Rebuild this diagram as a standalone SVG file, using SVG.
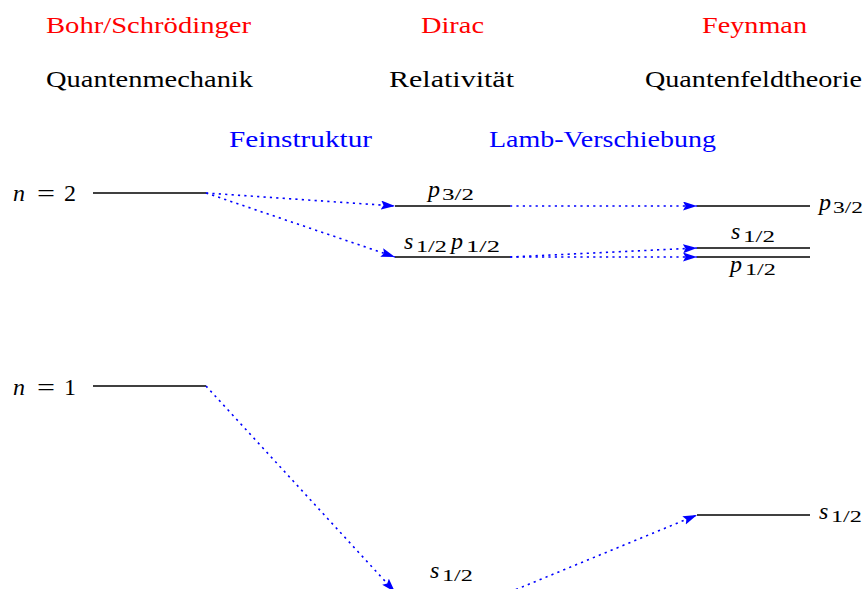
<svg xmlns="http://www.w3.org/2000/svg" width="866" height="589" viewBox="0 0 866 589">
<style>
.t{font-family:"Liberation Serif","Times New Roman",Tinos,"Noto Serif","DejaVu Serif",serif;font-size:24px;fill:#000}
.red{fill:#ff0000}
.blue{fill:#0000ff}
.mi{font-style:italic}
.sub{font-size:17px}
.lvl{stroke:#000;stroke-width:1.5;fill:none}
.conn{stroke:#0000ff;stroke-width:1.6;stroke-dasharray:2.2 4.2;fill:none;marker-end:url(#ah)}
</style>
<defs>
<marker id="ah" markerUnits="userSpaceOnUse" markerWidth="15" markerHeight="10" refX="14" refY="4.5" orient="auto">
<path d="M0,0 L14,4.5 L0,9 L2.5,4.5 z" fill="#0000ff"/>
</marker>
</defs>
<rect width="866" height="589" fill="#fff"/>

<g id="headers">
<text class="t red" x="46" y="33" textLength="205" lengthAdjust="spacingAndGlyphs">Bohr/Schrödinger</text>
<text class="t red" x="421" y="33" textLength="63" lengthAdjust="spacingAndGlyphs">Dirac</text>
<text class="t red" x="702" y="33" textLength="105" lengthAdjust="spacingAndGlyphs">Feynman</text>
<text class="t" x="46" y="87" textLength="207" lengthAdjust="spacingAndGlyphs">Quantenmechanik</text>
<text class="t" x="389" y="87" textLength="125" lengthAdjust="spacingAndGlyphs">Relativität</text>
<text class="t" x="645" y="87" textLength="217" lengthAdjust="spacingAndGlyphs">Quantenfeldtheorie</text>
<text class="t blue" x="229" y="147" textLength="143" lengthAdjust="spacingAndGlyphs">Feinstruktur</text>
<text class="t blue" x="489" y="147" textLength="227" lengthAdjust="spacingAndGlyphs">Lamb-Verschiebung</text>
</g>

<g id="bohr-n2">
<text class="t mi" x="13" y="201">n</text>
<text class="t" x="37" y="201" textLength="18" lengthAdjust="spacingAndGlyphs">=</text>
<text class="t" x="64" y="201">2</text>
<line class="lvl" x1="93" y1="193" x2="206" y2="193"/>
</g>

<g id="bohr-n1">
<text class="t mi" x="13" y="395">n</text>
<text class="t" x="37" y="395" textLength="18" lengthAdjust="spacingAndGlyphs">=</text>
<text class="t" x="64" y="395">1</text>
<line class="lvl" x1="93" y1="386" x2="206" y2="386"/>
</g>

<g id="dirac-p32">
<line class="lvl" x1="395" y1="206" x2="510" y2="206"/>
<text class="t mi" x="428" y="197">p</text>
<text class="t sub" x="442" y="200" textLength="32" lengthAdjust="spacingAndGlyphs">3/2</text>
</g>

<g id="dirac-s12p12">
<line class="lvl" x1="395" y1="257" x2="510" y2="257"/>
<text class="t mi" x="404" y="249">s</text>
<text class="t sub" x="416" y="252" textLength="31" lengthAdjust="spacingAndGlyphs">1/2</text>
<text class="t mi" x="451" y="249">p</text>
<text class="t sub" x="466" y="252" textLength="34" lengthAdjust="spacingAndGlyphs">1/2</text>
</g>

<g id="dirac-s12-ground">
<line class="lvl" x1="395" y1="592" x2="510" y2="592"/>
<text class="t mi" x="430" y="578">s</text>
<text class="t sub" x="442" y="581" textLength="31" lengthAdjust="spacingAndGlyphs">1/2</text>
</g>

<g id="feynman-p32">
<line class="lvl" x1="697" y1="206" x2="810" y2="206"/>
<text class="t mi" x="819" y="210">p</text>
<text class="t sub" x="833" y="213" textLength="30" lengthAdjust="spacingAndGlyphs">3/2</text>
</g>

<g id="feynman-s12">
<line class="lvl" x1="697" y1="248" x2="810" y2="248"/>
<text class="t mi" x="731" y="239">s</text>
<text class="t sub" x="743" y="242" textLength="32" lengthAdjust="spacingAndGlyphs">1/2</text>
</g>

<g id="feynman-p12">
<line class="lvl" x1="697" y1="257" x2="810" y2="257"/>
<text class="t mi" x="730" y="272">p</text>
<text class="t sub" x="745" y="275" textLength="31" lengthAdjust="spacingAndGlyphs">1/2</text>
</g>

<g id="feynman-s12-ground">
<line class="lvl" x1="697" y1="515" x2="810" y2="515"/>
<text class="t mi" x="819" y="519">s</text>
<text class="t sub" x="831" y="522" textLength="31" lengthAdjust="spacingAndGlyphs">1/2</text>
</g>

<g id="connectors">
<line class="conn" x1="206" y1="193" x2="395" y2="206"/>
<line class="conn" x1="206" y1="193" x2="395" y2="257"/>
<line class="conn" x1="510" y1="206" x2="697" y2="206"/>
<line class="conn" x1="510" y1="257" x2="697" y2="248"/>
<line class="conn" x1="510" y1="257" x2="697" y2="257"/>
<line class="conn" x1="206" y1="386" x2="395" y2="592"/>
<line class="conn" x1="510" y1="592" x2="697" y2="515"/>
</g>
</svg>
